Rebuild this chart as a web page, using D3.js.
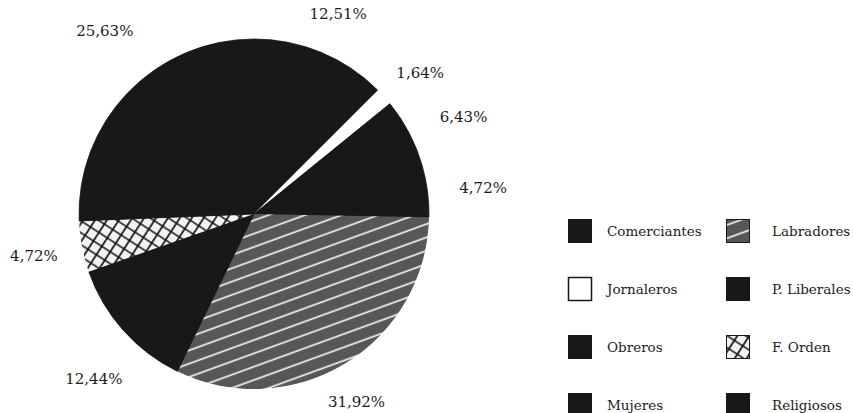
<!DOCTYPE html>
<html>
<head>
<meta charset="utf-8">
<script src="https://cdn.jsdelivr.net/npm/d3@7/dist/d3.min.js"></script>
<style>
  html, body { margin: 0; padding: 0; background: #fff; }
  svg { display: block; }
  text { font-family: "DejaVu Serif", "Liberation Serif", serif; fill: #1c1c1c; }
</style>
</head>
<body>
<svg id="chart" width="853" height="413"></svg>
<script>
// Occupational groups, in drawing order (clockwise from 12 o'clock)
const categories = ["Comerciantes", "Jornaleros", "Obreros", "Mujeres",
                    "Labradores", "P. Liberales", "F. Orden", "Religiosos"];
const shares = [12.51, 1.64, 6.43, 4.72, 31.92, 12.44, 4.72, 25.63];
const valueLabels = ["12,51%", "1,64%", "6,43%", "4,72%", "31,92%", "12,44%", "4,72%", "25,63%"];
const fills = ["dark", "white", "dark", "dark", "hatch", "dark", "cross", "dark"];
const legendOrder = ["Comerciantes", "Jornaleros", "Obreros", "Mujeres",
                     "Labradores", "P. Liberales", "F. Orden", "Religiosos"];

// Layout: small nudges [dx, dy] of each percentage label away from its radial spot
const labelNudge = [[-2, 8], [-1, 10], [10, 7], [6, 3], [-15, -4], [8, 16], [1, 0], [13, -27]];

const svg = d3.select("#chart");
const defs = svg.append("defs");

// Diagonal white lines on grey
const hatch = defs.append("pattern")
  .attr("id", "hatch").attr("patternUnits", "userSpaceOnUse")
  .attr("width", 12.5).attr("height", 12.5)
  .attr("patternTransform", "rotate(-20)");
hatch.append("rect").attr("width", 12.5).attr("height", 12.5).attr("fill", "#575757");
hatch.append("line").attr("x1", 0).attr("x2", 12.5).attr("y1", 6).attr("y2", 6)
  .attr("stroke", "#f2f2f2").attr("stroke-width", 1.7);

// Cross-hatch: bold black grid on white
const cross = defs.append("pattern")
  .attr("id", "cross").attr("patternUnits", "userSpaceOnUse")
  .attr("width", 10).attr("height", 10)
  .attr("patternTransform", "rotate(33)");
cross.append("rect").attr("width", 10).attr("height", 10).attr("fill", "#f2f2f2");
cross.append("path").attr("d", "M0,0H10M0,0V10M0,10H10M10,0V10")
  .attr("stroke", "#111").attr("stroke-width", 1.7);

const DARK = "#181818";
const fillFor = f => f === "dark" ? DARK : f === "white" ? "#ffffff"
  : f === "hatch" ? "url(#hatch)" : "url(#cross)";

const data = categories.map((c, i) => ({ name: c, value: shares[i], label: valueLabels[i], fill: fills[i], nudge: labelNudge[i] }));

const cx = 254, cy = 214, radius = 175, labelRadius = 225;

const pie = d3.pie().sort(null).value(d => d.value).startAngle(0).endAngle(2 * Math.PI);
const arc = d3.arc().innerRadius(0).outerRadius(radius);
const labelArc = d3.arc().innerRadius(labelRadius).outerRadius(labelRadius);

const g = svg.append("g").attr("transform", `translate(${cx},${cy})`);
const arcs = pie(data);

// dark disc underneath so neighbouring dark slices show no seams
g.append("circle").attr("r", radius - 0.5).attr("fill", DARK);

g.selectAll("path.slice").data(arcs).join("path")
  .attr("class", "slice")
  .attr("d", arc)
  .attr("fill", d => fillFor(d.data.fill))
  .attr("stroke", d => d.data.fill === "dark" ? DARK : "none")
  .attr("stroke-width", 0.8);

g.selectAll("text.pct").data(arcs).join("text")
  .attr("class", "pct")
  .attr("transform", d => {
    const [x, y] = labelArc.centroid(d);
    return `translate(${x + d.data.nudge[0]},${y + d.data.nudge[1]})`;
  })
  .attr("text-anchor", "middle")
  .attr("dominant-baseline", "central")
  .attr("font-size", 15)
  .text(d => d.data.label);

// Legend: two columns of four
const legend = svg.append("g");
const colX = [568, 726], textX = [39, 46], rowY0 = 219, rowStep = 58, sw = 24;
const item = legend.selectAll("g.item").data(legendOrder.map(n => data.find(d => d.name === n)))
  .join("g").attr("class", "item")
  .attr("transform", (d, i) => `translate(${colX[Math.floor(i / 4)]},${rowY0 + (i % 4) * rowStep})`);

item.append("rect")
  .attr("x", 0.5).attr("y", 0.5).attr("width", sw - 1).attr("height", sw - 1)
  .attr("fill", d => fillFor(d.fill))
  .attr("stroke", DARK).attr("stroke-width", d => d.fill === "white" ? 1.5 : 1);

item.append("text")
  .attr("x", (d, i) => textX[Math.floor(i / 4)]).attr("y", sw / 2)
  .attr("dominant-baseline", "central")
  .attr("font-size", 13.5)
  .text(d => d.name);
</script>
</body>
</html>
